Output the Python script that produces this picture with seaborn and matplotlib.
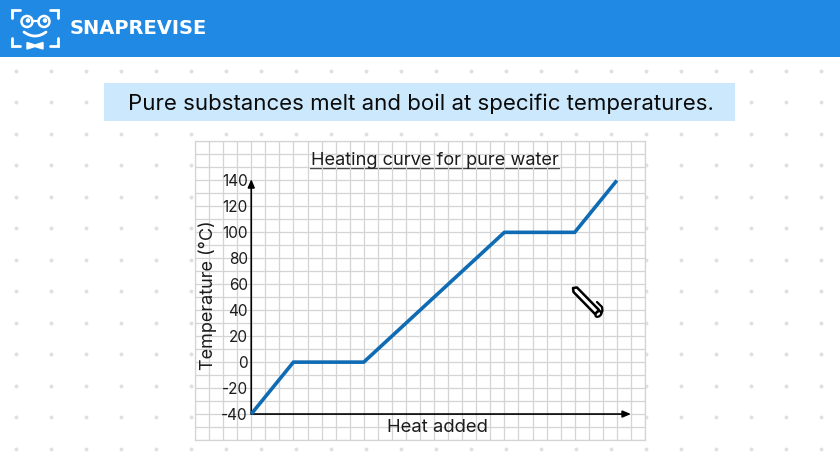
import numpy as np
import pandas as pd
import matplotlib
matplotlib.use("Agg")
import matplotlib.pyplot as plt
from matplotlib.patches import Rectangle, Circle, Polygon, Ellipse
import seaborn as sns

# ---------- data ----------
heatAdded = [0, 3, 8, 18, 23, 26]
temperature = [-40, 0, 0, 100, 100, 140]
tickValues = list(range(-60, 180, 10))
labelValues = list(range(-40, 160, 20))

brandName = "SNAPREVISE"
headline = "Pure substances melt and boil at specific temperatures."
chartTitle = "Heating curve for pure water"
xLabel = "Heat added"
yLabel = "Temperature (°C)"

W, H = 840, 472
BLUE = "#2089E4"
LINE = "#0F6CB4"
TEXT = "#1c1c1c"

sns.set_theme(style="white")
plt.rcParams["font.family"] = ["Inter", "DejaVu Sans"]

fig = plt.figure(figsize=(W / 100, H / 100), dpi=100, facecolor="white")

# ---------- page background in pixel coords ----------
bg = fig.add_axes([0, 0, 1, 1])
bg.set_xlim(0, W)
bg.set_ylim(H, 0)
bg.axis("off")

dotX, dotY = np.meshgrid(np.arange(16, 840, 35), np.arange(70.7, 460, 31.5))
bg.scatter(dotX.ravel(), dotY.ravel(), s=8, color="#e0e0e0", linewidths=0, zorder=1)

bg.add_patch(Rectangle((0, 0), W, 56.5, color=BLUE, lw=0, zorder=2))
bg.add_patch(Rectangle((104, 83), 631, 38, color="#CBE8FD", lw=0, zorder=2))
bg.add_patch(Rectangle((195, 141), 450, 299, color="white", lw=0, zorder=2))
bg.text(420.5, 103.5, headline, ha="center", va="center", fontsize=16, color="#0a0a0a", zorder=3)

# logo
for pts in ([(12, 18), (12, 10), (20, 10)], [(50, 10), (58, 10), (58, 18)],
            [(12, 38), (12, 46), (20, 46)], [(50, 46), (58, 46), (58, 38)]):
    bg.plot(*zip(*pts), color="white", lw=2, zorder=3, solid_joinstyle="miter")
for cx in (27, 44):
    bg.add_patch(Circle((cx, 21.5), 5.5, fill=False, ec="white", lw=1.8, zorder=3))
    bg.add_patch(Circle((cx + 1, 20.5), 1.6, color="white", zorder=3))
bg.plot([32.5, 38.5], [20.5, 20.5], color="white", lw=1.6, zorder=3)
smileX = np.linspace(24, 46, 20)
bg.plot(smileX, 32 + 4 * (1 - ((smileX - 35) / 11) ** 2), color="white", lw=2, zorder=3)
bg.add_patch(Polygon([(27, 42.5), (35, 45), (43, 42.5), (43, 49), (35, 46.5), (27, 49)], color="white", zorder=3))
bg.text(70, 28, brandName, ha="left", va="center", fontsize=14, fontweight="bold",
        family=["DejaVu Sans"], color="white", zorder=3)

# ---------- chart ----------
left, right, top, bottom = 195, 645, 141.5, 440
ax = fig.add_axes([left / W, 1 - bottom / H, (right - left) / W, (bottom - top) / H])
ax.patch.set_alpha(0)
ax.set_zorder(3)

curve = pd.DataFrame({"heat": heatAdded, "temp": temperature})
sns.lineplot(data=curve, x="heat", y="temp", color=LINE, lw=2.6, ax=ax, zorder=5,
             errorbar=None, sort=False, solid_joinstyle="miter", solid_capstyle="butt")

ax.set_xlim(-4, 28)
ax.set_ylim(-60, 170)
ax.set_xticks(range(-4, 29))
ax.set_xticklabels([])
ax.set_yticks(tickValues)
ax.set_yticklabels([str(v) if v in labelValues else "" for v in tickValues])
ax.set_xlabel("")
ax.set_ylabel("")
ax.grid(True, color="#d4d4d4", lw=0.9)
ax.set_axisbelow(True)
ax.tick_params(length=0)
ax.tick_params(axis="y", pad=-38, labelsize=11, labelcolor=TEXT)
for sp in ax.spines.values():
    sp.set_color("#d4d4d4")
    sp.set_linewidth(0.9)

# arrow axes
arrow = dict(arrowstyle="-|>,head_width=0.17,head_length=0.4", color="black", lw=1.2, shrinkA=0, shrinkB=0)
ax.annotate("", xy=(0, 141), xytext=(0, -40), arrowprops=arrow, zorder=4)
ax.annotate("", xy=(27, -40), xytext=(0, -40), arrowprops=arrow, zorder=4)

# labels in pixel positions
ax.text((434.5 - left) / (right - left), (bottom - 160.5) / (bottom - top), chartTitle, transform=ax.transAxes,
        ha="center", va="center", fontsize=13.1, color=TEXT)
bg.plot([310, 559], [167.5, 167.5], color="#333333", lw=1, zorder=3)
ax.text((437 - left) / (right - left), (bottom - 428) / (bottom - top), xLabel, transform=ax.transAxes,
        ha="center", va="center", fontsize=13.3, color=TEXT)
ax.text((208 - left) / (right - left), (bottom - 295) / (bottom - top), yLabel, transform=ax.transAxes,
        rotation=90, ha="center", va="center", fontsize=13, color=TEXT)

# pencil cursor
over = fig.add_axes([0, 0, 1, 1])
over.set_xlim(0, W)
over.set_ylim(H, 0)
over.axis("off")
over.set_zorder(6)
over.add_patch(Polygon([(573, 288), (577, 287.5), (599, 310), (595, 314), (573.5, 292)],
                       fc="white", ec="black", lw=1.8, joinstyle="round"))
over.add_patch(Ellipse((598.5, 314), 7, 4.5, angle=-40, fc="white", ec="black", lw=1.6))
over.plot([597, 602, 602.5, 601], [302, 307, 311, 313], color="black", lw=1.6)

fig.savefig("out.png", dpi=100)
